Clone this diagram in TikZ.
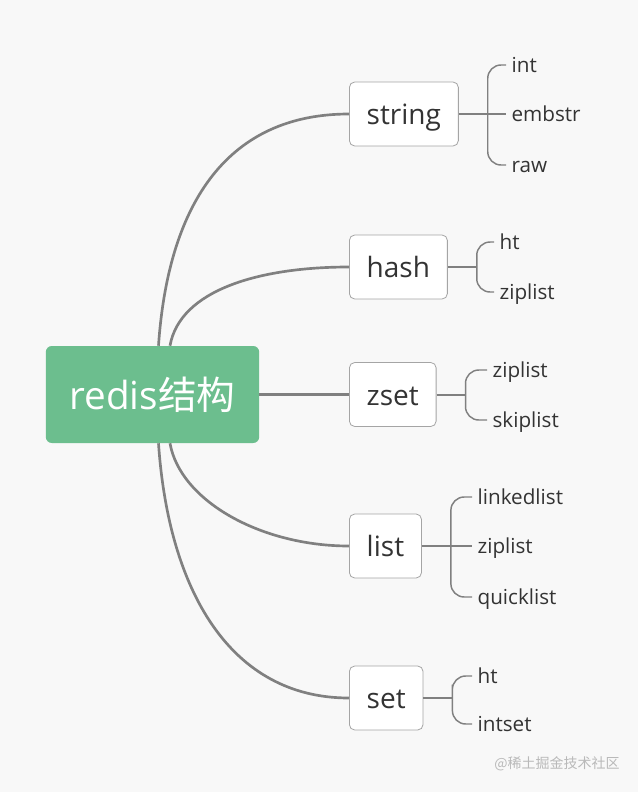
\documentclass[tikz,border=0pt]{standalone}
\usepackage{fontspec}
\setmainfont{Open Sans}
\newfontfamily\cjk{Noto Sans CJK SC}
\usetikzlibrary{calc}
\definecolor{rdgreen}{RGB}{108,190,142}
\definecolor{rdline}{RGB}{128,128,128}
\definecolor{rdborder}{RGB}{165,165,165}
\definecolor{rdtext}{RGB}{51,51,51}
\definecolor{rdbg}{RGB}{248,248,248}
\definecolor{rdmark}{RGB}{185,185,185}

\begin{document}
\begin{tikzpicture}[x=0.75pt, y=-0.75pt,
  root/.style={rounded corners=4.5pt, fill=rdgreen, text=white, minimum width=160pt, minimum height=72.75pt, text height=28pt, text depth=5pt, font=\fontsize{29}{32}\selectfont},
  kind/.style={draw=rdborder, line width=0.6pt, fill=white, rounded corners=4pt, anchor=west, minimum height=48pt, inner xsep=13pt, text height=20pt, text depth=4pt, text=rdtext, font=\fontsize{21}{24}\selectfont},
  leaf/.style={anchor=west, inner xsep=4pt, text height=15pt, text depth=3.5pt, text=rdtext, font=\fontsize{15.5}{18}\selectfont},
  branch/.style={draw=rdline, line width=2pt},
  brace/.style={draw=rdline, line width=1.1pt, rounded corners=10pt}]
\fill[rdbg] (0,0) rectangle (638,792);
% Root
\node[root] (redis) at (152.5,394.5) {redis{\cjk 结构}};
% Types
\node[kind] (string) at (349,114) {string};
\node[kind] (hash) at (349,267) {hash};
\node[kind] (zset) at (349,394.5) {zset};
\node[kind] (list) at (349,546) {list};
\node[kind] (set) at (349,698) {set};
% Encodings
\node[leaf] (int) at (506,65) {int};
\node[leaf] (embstr) at (506,114) {embstr};
\node[leaf] (raw) at (506,165) {raw};
\node[leaf] (hht) at (494,242) {ht};
\node[leaf] (hzip) at (494,292) {ziplist};
\node[leaf] (zzip) at (487,370) {ziplist};
\node[leaf] (zskip) at (487,420) {skiplist};
\node[leaf] (linked) at (472,497) {linkedlist};
\node[leaf] (lzip) at (472,546) {ziplist};
\node[leaf] (quick) at (472,597) {quicklist};
\node[leaf] (sht) at (472,676) {ht};
\node[leaf] (intset) at (472,724) {intset};
% Watermark
\node[text=rdmark, font=\cjk\fontsize{10.5}{12}\selectfont] (mark) at (557,764) {@稀土掘金技术社区};
% Branches
\draw[branch] ($(redis.north)+(6,0)$) .. controls +(10,-146) and +(-119,0) .. (string.west);
\draw[branch] ($(redis.north)+(17.5,0)$) .. controls +(10,-56) and +(-89,0) .. (hash.west);
\draw[branch] (redis.east) -- (zset.west);
\draw[branch] ($(redis.south)+(17.5,0)$) .. controls +(10,57) and +(-89,0) .. (list.west);
\draw[branch] ($(redis.south)+(6,0)$) .. controls +(10,147) and +(-119,0) .. (set.west);
% Braces
\draw[branch, line width=1.5pt] (string.east) -- (embstr.west);
\draw[brace] (int.west) -| ($(string.east)+(29,0)$) |- (raw.west);
\draw[branch, line width=1.5pt] (hash.east) -- ++(29,0);
\draw[brace] (hht.west) -| ($(hash.east)+(29,0)$) |- (hzip.west);
\draw[branch, line width=1.5pt] (zset.east) -- ++(29,0);
\draw[brace] (zzip.west) -| ($(zset.east)+(29,0)$) |- (zskip.west);
\draw[branch, line width=1.5pt] (list.east) -- (lzip.west);
\draw[brace] (linked.west) -| ($(list.east)+(29,0)$) |- (quick.west);
\draw[branch, line width=1.5pt] (set.east) -- ++(29,0);
\draw[brace] (sht.west) -| ($(set.east)+(29,0)$) |- (intset.west);
\end{tikzpicture}
\end{document}
